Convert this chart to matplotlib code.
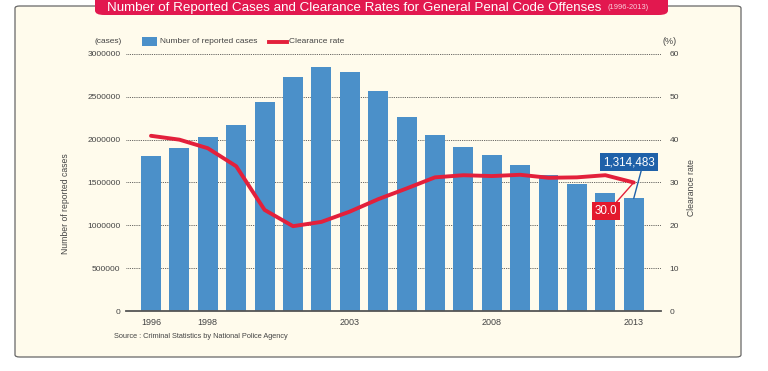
"""Reported penal code offences and clearance rates, 1996-2013."""

import matplotlib

matplotlib.use("Agg")
import matplotlib.pyplot as plt
from matplotlib.patches import FancyBboxPatch

plt.rcParams["font.family"] = ["Liberation Sans", "DejaVu Sans"]

years = list(range(1996, 2014))
cases = [1812119, 1899564, 2033546, 2165626, 2443470, 2735612, 2853739, 2790136, 2562767,
         2269572, 2050850, 1908836, 1818023, 1703044, 1586189, 1480760, 1382154, 1314483]
clearance = [40.9, 40.0, 38.0, 33.8, 23.6, 19.8, 20.8, 23.2, 26.1,
             28.6, 31.2, 31.7, 31.5, 31.8, 31.1, 31.2, 31.7, 30.0]
xtick_years = [1996, 1998, 2003, 2008, 2013]
left_ticks = [0, 500000, 1000000, 1500000, 2000000, 2500000, 3000000]
right_ticks = [0, 10, 20, 30, 40, 50, 60]

BAR = "#4b90c9"
RED = "#e3203b"
CREAM = "#fffbec"
TXT = "#444444"

fig = plt.figure(figsize=(7.68, 3.71), dpi=100)
W, H = 768, 371


def fx(px):
    return px / W


def fy(py):
    return 1 - py / H


# cream panel and title banner
fig.patches.append(FancyBboxPatch((fx(15), fy(357)), fx(741) - fx(15), fy(6) - fy(357),
                                  boxstyle="round,pad=0,rounding_size=0.006", transform=fig.transFigure,
                                  facecolor=CREAM, edgecolor="#666666", linewidth=0.9, zorder=-2))
fig.patches.append(FancyBboxPatch((fx(95), fy(15)), fx(668) - fx(95), fy(-6) - fy(15),
                                  boxstyle="round,pad=0,rounding_size=0.012", transform=fig.transFigure,
                                  facecolor="#e2184f", edgecolor="none", zorder=-1))
fig.text(fx(107), fy(7.5), "Number of Reported Cases and Clearance Rates for General Penal Code Offenses",
         color="white", fontsize=9.6, va="center", ha="left")
fig.text(fx(607), fy(7.5), "(1996-2013)", color="#f9d0dc", fontsize=5.4, va="center", ha="left")

ax = fig.add_axes([fx(126), fy(311), fx(661) - fx(126), fy(52.7) - fy(311)])
ax.set_facecolor("none")
ax.bar(years, cases, width=0.7, color=BAR, zorder=2)
ax.set_xlim(1995.12, 2013.96)
ax.set_ylim(0, 3015000)
ax.set_yticks(left_ticks)
ax.set_yticklabels([str(v) for v in left_ticks])
ax.set_xticks(xtick_years)
ax.set_xticklabels([str(y) for y in xtick_years])
ax.tick_params(axis="y", length=0, pad=4, labelsize=6, labelcolor=TXT)
ax.tick_params(axis="x", length=0, pad=5, labelsize=6.5, labelcolor=TXT)
ax.grid(axis="y", color="#333333", linestyle=(0, (1, 1.2)), linewidth=0.6, zorder=1)
for side in ["top", "left", "right"]:
    ax.spines[side].set_visible(False)
ax.spines["bottom"].set_color("#555555")
ax.spines["bottom"].set_linewidth(1.3)
ax.spines["bottom"].set_zorder(4)

ax2 = ax.twinx()
ax2.plot(years, clearance, color=RED, linewidth=2.8, solid_joinstyle="round", solid_capstyle="round", zorder=3)
ax2.set_ylim(0, 60.3)
ax2.set_yticks(right_ticks)
ax2.set_yticklabels([str(v) for v in right_ticks])
ax2.tick_params(axis="y", length=0, pad=6, labelsize=6, labelcolor=TXT)
for side in ["top", "left", "right", "bottom"]:
    ax2.spines[side].set_visible(False)

# callouts for 2013
ax2.annotate(f"{cases[-1]:,}", xy=(years[-1], cases[-1]), xycoords=ax.transData, xytext=(fx(629), fy(162)),
             textcoords="figure fraction", ha="center", va="center", color="white", fontsize=8.4,
             bbox=dict(boxstyle="square,pad=0.25", facecolor="#1f61a9", edgecolor="none"),
             arrowprops=dict(arrowstyle="-", color="#1f61a9", linewidth=1.0, shrinkA=0, shrinkB=0,
                             relpos=(0.75, 0)), zorder=6)
ax2.annotate(f"{clearance[-1]:.1f}", xy=(years[-1], clearance[-1]), xytext=(fx(606), fy(211)),
             textcoords="figure fraction", ha="center", va="center", color="white", fontsize=8.4,
             bbox=dict(boxstyle="square,pad=0.25", facecolor="#e3192d", edgecolor="none"),
             arrowprops=dict(arrowstyle="-", color=RED, linewidth=1.0, shrinkA=0, shrinkB=0,
                             relpos=(0.85, 1)), zorder=6)

# legend and unit labels
fig.text(fx(122), fy(41.5), "(cases)", fontsize=6, color=TXT, ha="right", va="center")
fig.text(fx(677), fy(41.5), "(%)", fontsize=6.5, color=TXT, ha="right", va="center")
fig.patches.append(FancyBboxPatch((fx(142), fy(45.5)), fx(157) - fx(142), fy(37) - fy(45.5),
                                  boxstyle="square,pad=0", transform=fig.transFigure,
                                  facecolor=BAR, edgecolor="none"))
fig.text(fx(160), fy(41.5), "Number of reported cases", fontsize=6, color=TXT, va="center")
fig.lines.append(plt.Line2D([fx(269), fx(287)], [fy(41.5), fy(41.5)], transform=fig.transFigure,
                            color=RED, linewidth=2.8))
fig.text(fx(289), fy(41.5), "Clearance rate", fontsize=6, color=TXT, va="center")

fig.text(fx(66), fy(204), "Number of reported cases", fontsize=6.2, color=TXT, rotation=90,
         ha="center", va="center")
fig.text(fx(691), fy(188), "Clearance rate", fontsize=6.2, color=TXT, rotation=90,
         ha="center", va="center")
fig.text(fx(114), fy(336), "Source : Criminal Statistics by National Police Agency", fontsize=5.3,
         color=TXT, va="center")

fig.savefig("out.png", dpi=100, facecolor="white")
